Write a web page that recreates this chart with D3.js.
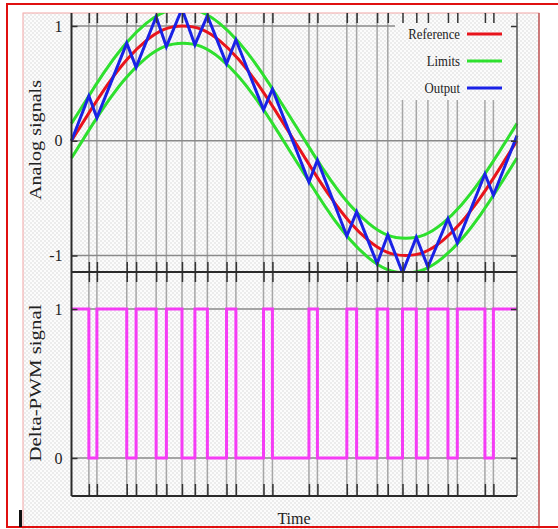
<!DOCTYPE html>
<html lang="en">
    <head>
        <meta charset="utf-8">
        <style>
            body { margin: 0; background: #fff; }
            text { font-family: "Liberation Serif", "DejaVu Serif", serif; fill: #222; }
            .grid line { stroke: #a6a6a6; stroke-width: 1.5; }
            .hgrid line { stroke: #8a8a8a; stroke-width: 1.5; }
            .ticks line { stroke: #333; stroke-width: 1.5; }
            .ticks path { display: none; }
            .frame { stroke: #2a2a2a; stroke-width: 2; fill: none; }
        </style>
        <script src="https://d3js.org/d3.v7.min.js"></script>
    </head>

    <body>
        <svg width="558" height="529"></svg>

        <script>
            // Sampled reference sine and its limit band (one period)
            var refTimes = [0, 0.042, 0.083, 0.125, 0.167, 0.208, 0.25, 0.292, 0.333, 0.375, 0.417, 0.458, 0.5,
                            0.542, 0.583, 0.625, 0.667, 0.708, 0.75, 0.792, 0.833, 0.875, 0.917, 0.958, 1];
            var refValues = [0, 0.26, 0.5, 0.71, 0.87, 0.97, 1, 0.97, 0.87, 0.71, 0.5, 0.26, 0,
                             -0.26, -0.5, -0.71, -0.87, -0.97, -1, -0.97, -0.87, -0.71, -0.5, -0.26, 0];
            var upperValues = [0.15, 0.41, 0.65, 0.86, 1.02, 1.12, 1.15, 1.12, 1.02, 0.86, 0.65, 0.41, 0.15,
                               -0.11, -0.35, -0.56, -0.72, -0.82, -0.85, -0.82, -0.72, -0.56, -0.35, -0.11, 0.15];
            var lowerValues = [-0.15, 0.11, 0.35, 0.56, 0.72, 0.82, 0.85, 0.82, 0.72, 0.56, 0.35, 0.11, -0.15,
                               -0.41, -0.65, -0.86, -1.02, -1.12, -1.15, -1.12, -1.02, -0.86, -0.65, -0.41, -0.15];

            // Output (delta modulated) vertices, switching times
            var outputTimes = [0, 0.039, 0.057, 0.124, 0.145, 0.190, 0.213, 0.248, 0.277, 0.305, 0.348, 0.369,
                               0.431, 0.451, 0.533, 0.552, 0.618, 0.640, 0.686, 0.710, 0.743, 0.774, 0.800,
                               0.845, 0.866, 0.928, 0.947, 1];
            var outputValues = [0, 0.39, 0.20, 0.85, 0.64, 1.08, 0.82, 1.15, 0.835, 1.09, 0.67, 0.88,
                                0.27, 0.45, -0.36, -0.17, -0.83, -0.62, -1.07, -0.82, -1.15, -0.84, -1.10,
                                -0.68, -0.89, -0.29, -0.475, 0.045];
            // PWM level for each interval between output vertices
            var pwmLevels = [1, 0, 1, 0, 1, 0, 1, 0, 1, 0, 1, 0, 1, 0, 1, 0, 1, 0, 1, 0, 1, 0, 1, 0, 1, 0, 1];

            var topTicks = [-1, 0, 1];
            var bottomTicks = [0, 1];
            var legendKeys = ["Reference", "Limits", "Output"];
            var legendColors = ["#e8141c", "#2ee02e", "#1a22e6"];

            var svg = d3.select("svg");

            var left = 71.5, right = 517;
            var topY0 = 13, topY1 = 272, botY1 = 496;

            var x = d3.scaleLinear().domain([0, 1]).range([left, right]);
            var yTop = d3.scaleLinear().domain([-1, 1]).range([255.5, 26]);
            var yBot = d3.scaleLinear().domain([0, 1]).range([458, 309]);

            var switchTimes = outputTimes.slice(1, -1);

            // Background pattern and clip
            var defs = svg.append("defs");
            var pat = defs.append("pattern")
                .attr("id", "dither")
                .attr("width", 4).attr("height", 4)
                .attr("patternUnits", "userSpaceOnUse");
            pat.append("rect").attr("width", 4).attr("height", 4).attr("fill", "#fcfcfc");
            pat.append("rect").attr("width", 2).attr("height", 2).attr("fill", "#ececec");
            pat.append("rect").attr("x", 2).attr("y", 2).attr("width", 2).attr("height", 2).attr("fill", "#ececec");

            defs.append("clipPath").attr("id", "clipTop")
              .append("rect")
                .attr("x", left - 5).attr("y", topY0)
                .attr("width", right - left + 10).attr("height", topY1 - topY0);

            // Frames
            svg.append("rect")
                .attr("x", 7).attr("y", 4)
                .attr("width", 570).attr("height", 523)
                .attr("fill", "#fff")
                .attr("stroke", "#e01010")
                .attr("stroke-width", 2);
            svg.append("rect")
                .attr("x", 23).attr("y", topY0)
                .attr("width", 516).attr("height", 530)
                .attr("fill", "url(#dither)")
                .attr("stroke", "#f2a6a6")
                .attr("stroke-width", 1);
            svg.append("line")
                .attr("x1", 539).attr("x2", 539).attr("y1", topY0).attr("y2", 527)
                .attr("stroke", "#b04040").attr("stroke-width", 1.2);

            // Vertical grid at switching instants
            svg.append("g").attr("class", "grid")
              .selectAll("line")
              .data(switchTimes)
              .enter().append("line")
                .attr("x1", function(d) { return x(d); })
                .attr("x2", function(d) { return x(d); })
                .attr("y1", topY0)
                .attr("y2", botY1);

            // Horizontal grid
            svg.append("g").attr("class", "hgrid")
              .selectAll("line")
              .data(topTicks)
              .enter().append("line")
                .attr("x1", left).attr("x2", right)
                .attr("y1", function(d) { return yTop(d); })
                .attr("y2", function(d) { return yTop(d); });
            svg.append("g").attr("class", "hgrid")
              .selectAll("line")
              .data(bottomTicks)
              .enter().append("line")
                .attr("x1", left).attr("x2", right)
                .attr("y1", function(d) { return yBot(d); })
                .attr("y2", function(d) { return yBot(d); });

            // Legend box hides the grid beneath it
            svg.append("rect")
                .attr("x", 395).attr("y", topY0 + 1)
                .attr("width", right - 395).attr("height", 86)
                .attr("fill", "url(#dither)");

            // Top panel curves
            var gTop = svg.append("g").attr("clip-path", "url(#clipTop)");
            var bandLine = d3.line()
                .x(function(d) { return x(d[0]); })
                .y(function(d) { return yTop(d[1]); })
                .curve(d3.curveNatural);

            [upperValues, lowerValues].forEach(function(vals) {
                gTop.append("path")
                    .datum(refTimes.map(function(t, i) { return [t, vals[i]]; }))
                    .attr("fill", "none")
                    .attr("stroke", legendColors[1])
                    .attr("stroke-width", 3)
                    .attr("d", bandLine);
            });
            gTop.append("path")
                .datum(refTimes.map(function(t, i) { return [t, refValues[i]]; }))
                .attr("fill", "none")
                .attr("stroke", legendColors[0])
                .attr("stroke-width", 3)
                .attr("d", bandLine);

            var outLine = d3.line()
                .x(function(d) { return x(d[0]); })
                .y(function(d) { return yTop(d[1]); });
            gTop.append("path")
                .datum(outputTimes.map(function(t, i) { return [t, outputValues[i]]; }))
                .attr("fill", "none")
                .attr("stroke", legendColors[2])
                .attr("stroke-width", 3)
                .attr("stroke-linejoin", "miter")
                .attr("d", outLine);

            // Bottom panel PWM
            var pwmData = pwmLevels.map(function(l, i) { return [outputTimes[i], l]; });
            pwmData.push([1, pwmLevels[pwmLevels.length - 1]]);
            svg.append("path")
                .datum(pwmData)
                .attr("fill", "none")
                .attr("stroke", "#f53cf5")
                .attr("stroke-width", 3)
                .attr("d", d3.line()
                    .x(function(d) { return x(d[0]); })
                    .y(function(d) { return yBot(d[1]); })
                    .curve(d3.curveStepAfter));

            // X ticks on panel edges
            function xTicks(axis, y, size) {
                svg.append("g")
                    .attr("class", "ticks")
                    .attr("transform", "translate(0," + y + ")")
                    .call(axis(x).tickValues(switchTimes).tickSize(size).tickFormat(""));
            }
            xTicks(d3.axisTop, topY0, -10);
            xTicks(d3.axisBottom, topY1, -10);
            xTicks(d3.axisTop, topY1, -10);
            xTicks(d3.axisBottom, botY1, -12);

            // Y axes
            function yAxis(scale, vals) {
                svg.append("g")
                    .attr("class", "ticks")
                    .attr("transform", "translate(" + left + ",0)")
                    .call(d3.axisLeft(scale).tickValues(vals).tickSize(-6).tickPadding(9)
                        .tickFormat(function(d) { return String(d); }))
                    .selectAll("text")
                    .style("font-family", "'Liberation Serif', serif")
                    .style("font-size", "16px")
                    .attr("fill", "#333");
                svg.append("g")
                    .attr("class", "ticks")
                    .attr("transform", "translate(" + right + ",0)")
                    .call(d3.axisRight(scale).tickValues(vals).tickSize(-6).tickFormat(""));
            }
            yAxis(yTop, topTicks);
            yAxis(yBot, bottomTicks);

            // Panel frame lines
            svg.append("line").attr("class", "frame")
                .attr("x1", left).attr("x2", left).attr("y1", topY0).attr("y2", botY1);
            svg.append("line").attr("class", "frame")
                .attr("x1", right).attr("x2", right).attr("y1", topY0).attr("y2", botY1)
                .style("stroke", "#555").style("stroke-width", 1.5);
            svg.append("line").attr("class", "frame")
                .attr("x1", left).attr("x2", right).attr("y1", topY1).attr("y2", topY1);
            svg.append("line").attr("class", "frame")
                .attr("x1", left).attr("x2", right).attr("y1", botY1).attr("y2", botY1);

            // Legend
            var lg = svg.append("g").attr("class", "legend");
            lg.selectAll("text")
                .data(legendKeys)
                .enter().append("text")
                    .attr("x", 460)
                    .attr("y", function(d, i) { return 39 + i * 27; })
                    .attr("text-anchor", "end")
                    .style("font-size", "15px")
                    .attr("transform", function(d, i) { return "translate(460," + (39 + i * 27) + ") scale(0.85,1) translate(-460," + -(39 + i * 27) + ")"; })
                    .text(function(d) { return d; });
            lg.selectAll("line")
                .data(legendKeys)
                .enter().append("line")
                    .attr("x1", 467).attr("x2", 502)
                    .attr("y1", function(d, i) { return 34 + i * 27; })
                    .attr("y2", function(d, i) { return 34 + i * 27; })
                    .attr("stroke", function(d, i) { return legendColors[i]; })
                    .attr("stroke-width", 3);

            // Axis titles
            svg.append("text")
                .attr("transform", "translate(41,140) rotate(-90)")
                .attr("text-anchor", "middle")
                .attr("textLength", 120)
                .attr("lengthAdjust", "spacingAndGlyphs")
                .style("font-size", "16px")
                .text("Analog signals");
            svg.append("text")
                .attr("transform", "translate(41,383) rotate(-90)")
                .attr("text-anchor", "middle")
                .attr("textLength", 157)
                .attr("lengthAdjust", "spacingAndGlyphs")
                .style("font-size", "16px")
                .text("Delta-PWM signal");
            svg.append("text")
                .attr("x", 294).attr("y", 524)
                .attr("text-anchor", "middle")
                .style("font-size", "16px")
                .text("Time");

            // Bottom frame edge and a small bar at the corner
            svg.append("line")
                .attr("x1", 7).attr("x2", 558).attr("y1", 527).attr("y2", 527)
                .attr("stroke", "#e01010").attr("stroke-width", 2);
            svg.append("rect")
                .attr("x", 19).attr("y", 510).attr("width", 3).attr("height", 17)
                .attr("fill", "#111");
        </script>
    </body>
</html>
